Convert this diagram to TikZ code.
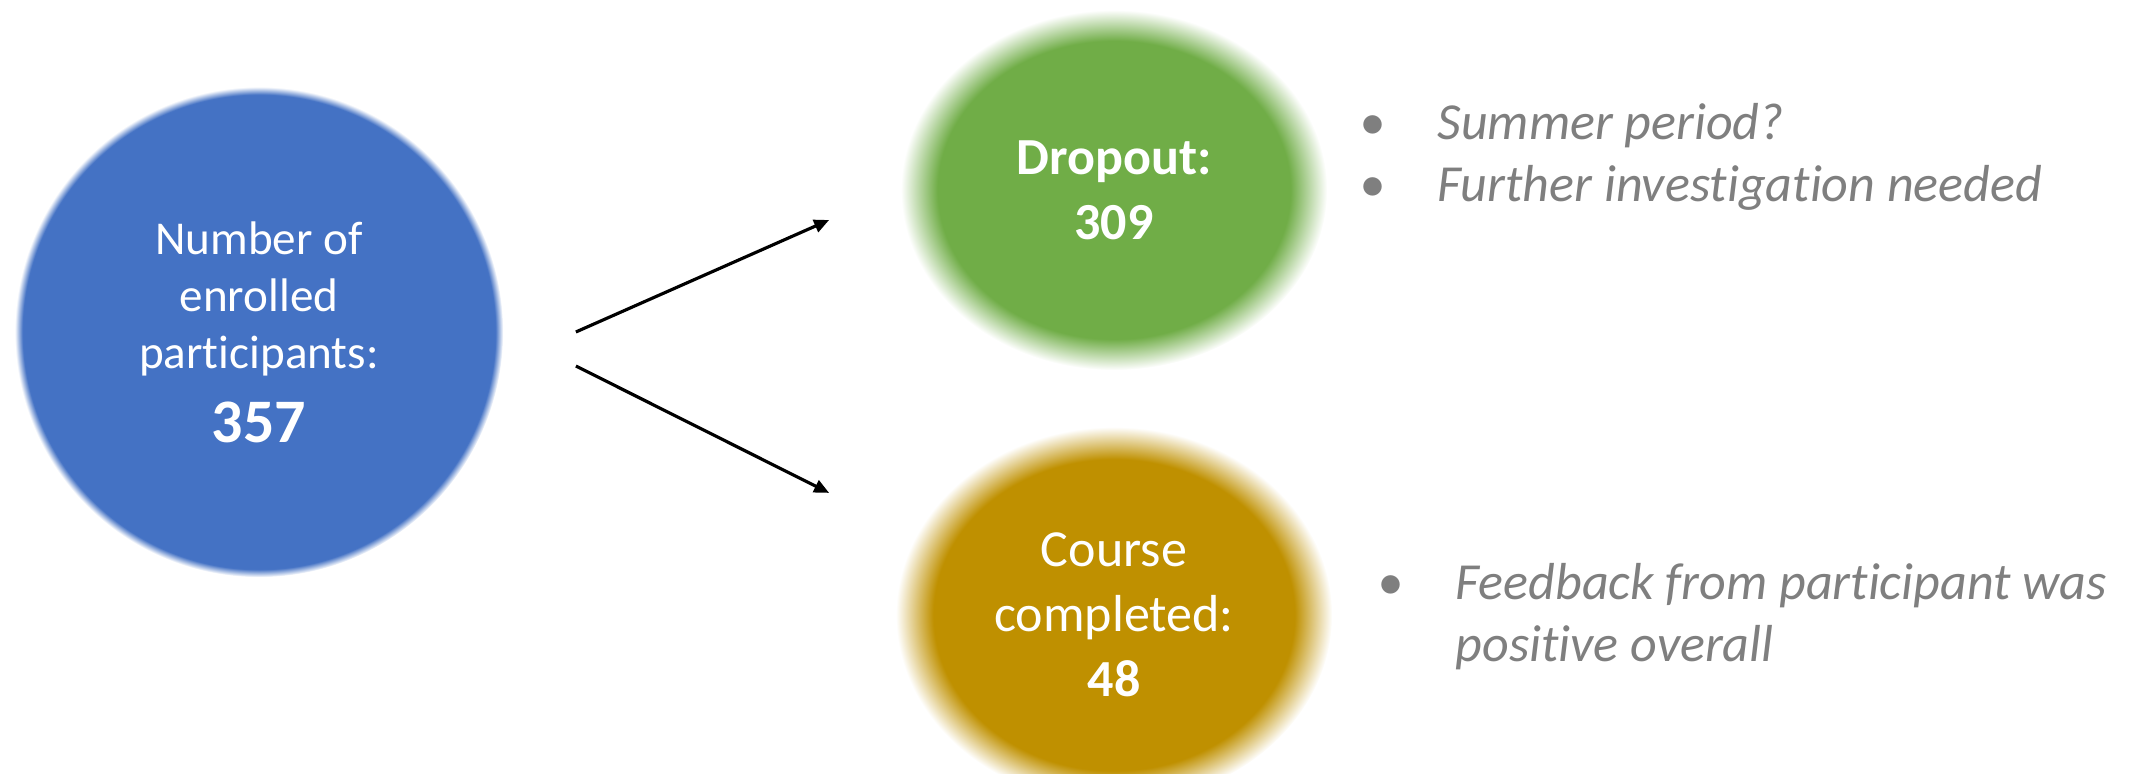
\documentclass[tikz,border=0pt]{standalone}
\usepackage{fontspec}
\setmainfont{Carlito}[Ligatures=NoCommon]
\usepackage{tikz}
\usepackage{xcolor}
\usetikzlibrary{arrows.meta, shapes.geometric, positioning, calc}
\definecolor{enrblue}{HTML}{4472C4}
\definecolor{dropgreen}{HTML}{70AD47}
\definecolor{donegold}{HTML}{BF9000}
\definecolor{notegray}{HTML}{7F7F7F}
% soft edged fills
\pgfdeclareradialshading{softblue}{\pgfpoint{0bp}{0bp}}{color(0bp)=(enrblue); color(24.2bp)=(enrblue); color(25bp)=(white); color(50bp)=(white)}
\pgfdeclareradialshading{softgreen}{\pgfpoint{0bp}{0bp}}{color(0bp)=(dropgreen); color(20.7bp)=(dropgreen); color(25bp)=(white); color(50bp)=(white)}
\pgfdeclareradialshading{softgold}{\pgfpoint{0bp}{0bp}}{color(0bp)=(donegold); color(20.7bp)=(donegold); color(25bp)=(white); color(50bp)=(white)}
\newcommand{\enrfont}{\fontsize{13.4}{16.3}\selectfont}
\newcommand{\blobfont}{\fontsize{14.8}{18.4}\selectfont}
\newcommand{\notefont}{\fontsize{14.8}{17.7}\selectfont\itshape}
\tikzset{
  % arrow style
  garr/.style={
    line width = 0.9pt
    , -{Triangle[length=1.5mm,width=1.3mm]}
  },
}
\tikzset{
  % soft ellipse node style
  blob/.style={
    ellipse
    , shade
    , inner sep=0pt
    , text=white
    , align=center
    , anchor=center
  },
  % grey bullet notes
  note/.style={
    inner sep=0pt
    , text=notegray
    , font=\notefont
    , align=left
  },
}
\begin{document}
\begin{tikzpicture}[x=0.01cm, y=-0.01cm]
      \useasboundingbox (0,0) rectangle (2141,774);

      \node[blob, shading=softblue, minimum width=4.88cm, minimum height=4.9cm, font=\enrfont] (enr) at (259,332)
        {Number of\\enrolled\\participants:\\[4.5pt]{\fontsize{17.6}{21}\selectfont\bfseries 357}};
      \node[blob, shading=softgreen, minimum width=4.26cm, minimum height=3.6cm, font=\blobfont\bfseries] (drop) at (1114,190)
        {Dropout:\\309};
      \node[blob, shading=softgold, minimum width=4.36cm, minimum height=3.76cm, font=\blobfont] (done) at (1114,615)
        {Course\\completed:\\{\bfseries 48}};

      \node[note, anchor=base west] (sumtxt) at (1437,140) {Summer period?};
      \node[note, anchor=base west] (furtxt) at (1437,202) {Further investigation needed};
      \node[note, anchor=base west] (feedtxt) at (1455,662) {Feedback from participant was\\positive overall};
      \node[note, anchor=base] (sumdot) at (1372,140) {•};
      \node[note, anchor=base] (furdot) at (1372,202) {•};
      \node[note, anchor=base] (feeddot) at (1390,600) {•};

      \draw[garr] ([xshift=0.72cm]enr.east) -- ([xshift=-0.71cm,yshift=-0.30cm]drop.west);
      \draw[garr] ([xshift=0.72cm,yshift=-0.34cm]enr.east) -- ([xshift=-0.66cm,yshift=1.22cm]done.west);
\end{tikzpicture}
\end{document}
